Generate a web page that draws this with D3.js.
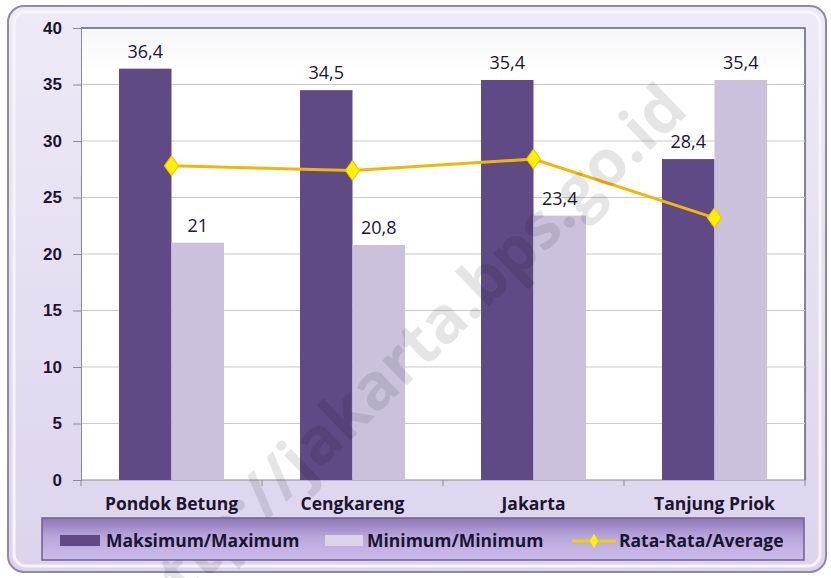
<!DOCTYPE html>
<html>
<head>
<meta charset="utf-8">
<script src="https://cdn.jsdelivr.net/npm/d3@7/dist/d3.min.js"></script>
<style>
  body { margin: 0; background: #fff; }
  svg { display: block; font-family: 'Open Sans', sans-serif; }
</style>
</head>
<body>
<div id="chart"></div>
<script>
// chart data
const categories = ['Pondok Betung', 'Cengkareng', 'Jakarta', 'Tanjung Priok'];
const maxValues = [36.4, 34.5, 35.4, 28.4];
const minValues = [21, 20.8, 23.4, 35.4];
const avgValues = [27.8, 27.4, 28.4, 23.2];
const yTicks = [0, 5, 10, 15, 20, 25, 30, 35, 40];
const seriesNames = ['Maksimum/Maximum', 'Minimum/Minimum', 'Rata-Rata/Average'];

const W = 831, H = 578;
const plot = {l: 81, t: 28, r: 805, b: 480};

const svg = d3.select('#chart').append('svg')
    .attr('width', W)
    .attr('height', H);

const defs = svg.append('defs');

const frameGrad = defs.append('linearGradient')
    .attr('id', 'frameGrad')
    .attr('x1', 0).attr('y1', 0).attr('x2', 0).attr('y2', 1);
frameGrad.append('stop').attr('offset', '0%').attr('stop-color', '#eeeaf6');
frameGrad.append('stop').attr('offset', '100%').attr('stop-color', '#ddd3ee');

const legendGrad = defs.append('linearGradient')
    .attr('id', 'legendGrad')
    .attr('x1', 0).attr('y1', 0).attr('x2', 0).attr('y2', 1);
legendGrad.append('stop').attr('offset', '0%').attr('stop-color', '#8e78b8');
legendGrad.append('stop').attr('offset', '45%').attr('stop-color', '#b9a6dc');
legendGrad.append('stop').attr('offset', '100%').attr('stop-color', '#cdbdea');

const plotGrad = defs.append('linearGradient')
    .attr('id', 'plotGrad')
    .attr('x1', 0).attr('y1', 0).attr('x2', 0).attr('y2', 1);
plotGrad.append('stop').attr('offset', '0%').attr('stop-color', '#f6f6f8');
plotGrad.append('stop').attr('offset', '10%').attr('stop-color', '#ffffff');
plotGrad.append('stop').attr('offset', '100%').attr('stop-color', '#ffffff');

// outer frame
svg.append('rect')
    .attr('x', 8).attr('y', 6)
    .attr('width', 818).attr('height', 566)
    .attr('rx', 16)
    .attr('fill', 'url(#frameGrad)')
    .attr('stroke', '#8f8a9c')
    .attr('stroke-width', 2);
svg.append('rect')
    .attr('x', 14).attr('y', 12)
    .attr('width', 806).attr('height', 554)
    .attr('rx', 12)
    .attr('fill', 'none')
    .attr('stroke', '#f7f4fc')
    .attr('stroke-width', 3);

// plot area
svg.append('rect')
    .attr('x', plot.l).attr('y', plot.t)
    .attr('width', plot.r - plot.l).attr('height', plot.b - plot.t)
    .attr('fill', 'url(#plotGrad)');
svg.append('path')
    .attr('d', `M${plot.l},${plot.t}H${plot.r}V${plot.b}`)
    .attr('fill', 'none')
    .attr('stroke', '#5b6275')
    .attr('stroke-width', 1.5);

// scales
const x = d3.scaleBand()
    .domain(categories)
    .range([plot.l, plot.r])
    .paddingInner(0.42)
    .paddingOuter(0.21);

const xSub = d3.scaleBand()
    .domain(['max', 'min'])
    .range([0, x.bandwidth()]);

const y = d3.scaleLinear()
    .domain([0, 40])
    .range([plot.b, plot.t]);

// gridlines
svg.append('g')
    .selectAll('line')
    .data(yTicks.filter(d => d > 0 && d < 40))
    .join('line')
    .attr('x1', plot.l).attr('x2', plot.r)
    .attr('y1', d => y(d)).attr('y2', d => y(d))
    .attr('stroke', '#c9c9cf')
    .attr('stroke-width', 1);

// y axis
const yAxis = svg.append('g')
    .attr('transform', `translate(${plot.l},0)`)
    .call(d3.axisLeft(y).tickValues(yTicks).tickSize(8).tickPadding(11));
yAxis.select('.domain').attr('stroke', '#8b8b95');
yAxis.selectAll('.tick line').attr('stroke', '#8b8b95');
yAxis.selectAll('.tick text')
    .attr('fill', '#1b1530')
    .style('font-size', '17px')
    .style('font-weight', 'bold');

// x axis
const step = x.step();
const xBounds = d3.range(categories.length + 1).map(i => plot.l + i * step);
svg.append('line')
    .attr('x1', plot.l).attr('x2', plot.r)
    .attr('y1', plot.b).attr('y2', plot.b)
    .attr('stroke', '#8b8b95');
svg.append('g')
    .selectAll('line')
    .data(xBounds)
    .join('line')
    .attr('x1', d => d).attr('x2', d => d)
    .attr('y1', plot.b).attr('y2', plot.b + 6)
    .attr('stroke', '#8b8b95');
svg.append('g')
    .selectAll('text')
    .data(categories)
    .join('text')
    .attr('x', d => x(d) + x.bandwidth() / 2)
    .attr('y', plot.b + 30)
    .attr('text-anchor', 'middle')
    .attr('fill', '#1b1530')
    .style('font-size', '17.5px')
    .style('font-weight', 'bold')
    .text(d => d);

// bars
const barData = categories.flatMap((c, i) => [
    {cat: c, key: 'max', value: maxValues[i]},
    {cat: c, key: 'min', value: minValues[i]}
]);
const barFill = {max: '#5f4a86', min: '#cbc1dd'};

svg.append('g')
    .selectAll('rect')
    .data(barData)
    .join('rect')
    .attr('x', d => x(d.cat) + xSub(d.key))
    .attr('y', d => y(d.value))
    .attr('width', xSub.bandwidth())
    .attr('height', d => y(0) - y(d.value))
    .attr('fill', d => barFill[d.key]);

const fmt = v => String(v).replace('.', ',');
svg.append('g')
    .selectAll('text')
    .data(barData)
    .join('text')
    .attr('x', d => x(d.cat) + xSub(d.key) + xSub.bandwidth() / 2)
    .attr('y', d => y(d.value) - 11)
    .attr('text-anchor', 'middle')
    .attr('fill', '#1b1530')
    .style('font-size', '18px')
    .text(d => fmt(d.value));

// average line
const avgData = categories.map((c, i) => ({cat: c, value: avgValues[i]}));
const line = d3.line()
    .x(d => x(d.cat) + x.bandwidth() / 2)
    .y(d => y(d.value));
svg.append('path')
    .datum(avgData)
    .attr('d', line)
    .attr('fill', 'none')
    .attr('stroke', '#f2b705')
    .attr('stroke-width', 3);

const diamond = d3.symbol().type(d3.symbolDiamond).size(110);
svg.append('g')
    .selectAll('path')
    .data(avgData)
    .join('path')
    .attr('d', diamond)
    .attr('transform', d => `translate(${x(d.cat) + x.bandwidth() / 2},${y(d.value)}) scale(1.25,1)`)
    .attr('fill', '#fff200')
    .attr('stroke', '#f2c500')
    .attr('stroke-width', 1);

// watermark (runs off the lower-left edge, as in the source image)
svg.append('text')
    .attr('transform', 'translate(690,112) rotate(-44)')
    .attr('text-anchor', 'end')
    .attr('fill', '#000')
    .attr('fill-opacity', 0.1)
    .style('font-size', '64px')
    .style('font-weight', 'bold')
    .text('http://jakarta.bps.go.id');

// legend
const legend = svg.append('g');
legend.append('rect')
    .attr('x', 42).attr('y', 518)
    .attr('width', 762).attr('height', 42)
    .attr('fill', 'url(#legendGrad)')
    .attr('stroke', '#6f5f95')
    .attr('stroke-width', 1.5);

const legendX = [60, 325, 572];
const legendTextX = [106, 367, 619];
const swatchW = [40, 38, 44];

seriesNames.forEach((name, i) => {
    if (i < 2) {
        legend.append('rect')
            .attr('x', legendX[i]).attr('y', 535)
            .attr('width', swatchW[i]).attr('height', 11)
            .attr('fill', i === 0 ? barFill.max : '#ddd4ea');
    } else {
        legend.append('line')
            .attr('x1', legendX[i]).attr('x2', legendX[i] + swatchW[i])
            .attr('y1', 541).attr('y2', 541)
            .attr('stroke', '#f2d000')
            .attr('stroke-width', 3);
        legend.append('path')
            .attr('d', d3.symbol().type(d3.symbolDiamond).size(60))
            .attr('transform', `translate(${legendX[i] + swatchW[i] / 2},541)`)
            .attr('fill', '#fff200');
    }
    legend.append('text')
        .attr('x', legendTextX[i])
        .attr('y', 547)
        .attr('fill', '#1b1530')
        .style('font-size', '17.5px')
        .style('font-weight', 'bold')
        .text(name);
});
</script>
</body>
</html>
